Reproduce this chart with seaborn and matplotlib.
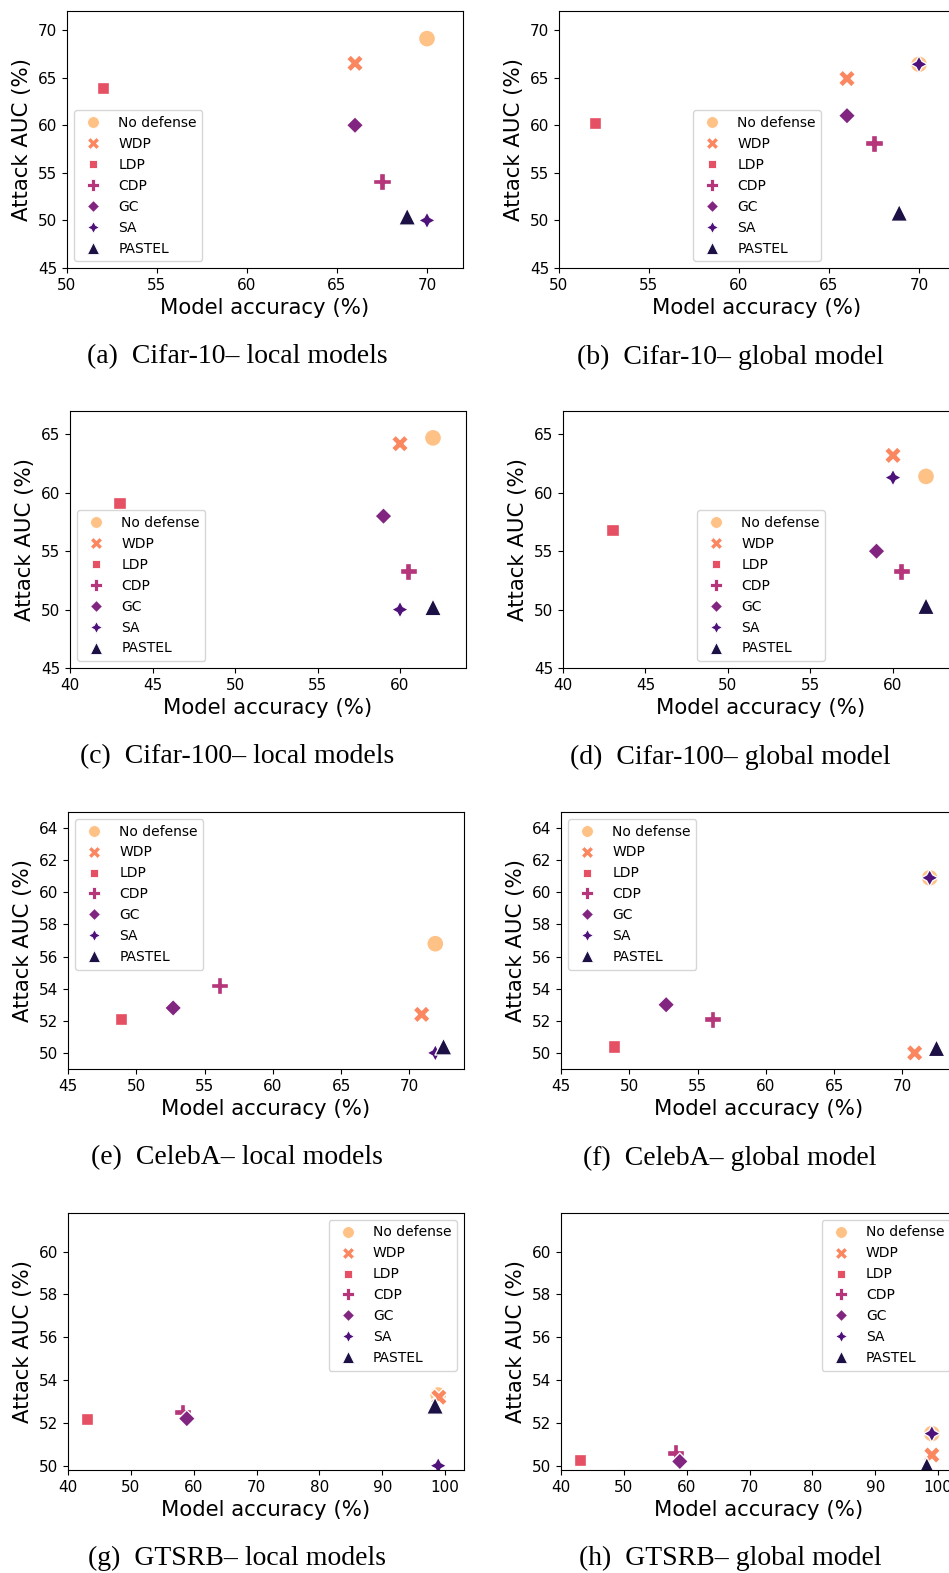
import numpy as np
import pandas as pd
import matplotlib
matplotlib.use("Agg")
import matplotlib.pyplot as plt
import seaborn as sns

methods = ["No defense", "WDP", "LDP", "CDP", "GC", "SA", "PASTEL"]

# (a) Cifar-10 - local models
c10_local_acc = [70.0, 66.0, 52.0, 67.5, 66.0, 70.0, 68.9]
c10_local_auc = [69.1, 66.5, 63.9, 54.1, 60.0, 50.0, 50.4]
# (b) Cifar-10 - global model
c10_global_acc = [70.0, 66.0, 52.0, 67.5, 66.0, 70.0, 68.9]
c10_global_auc = [66.4, 64.9, 60.2, 58.1, 61.0, 66.4, 50.8]
# (c) Cifar-100 - local models
c100_local_acc = [62.0, 60.0, 43.0, 60.5, 59.0, 60.0, 62.0]
c100_local_auc = [64.7, 64.2, 59.1, 53.3, 58.0, 50.0, 50.2]
# (d) Cifar-100 - global model
c100_global_acc = [62.0, 60.0, 43.0, 60.5, 59.0, 60.0, 62.0]
c100_global_auc = [61.4, 63.2, 56.8, 53.3, 55.0, 61.3, 50.3]
# (e) CelebA - local models
celeba_local_acc = [71.9, 70.9, 48.9, 56.1, 52.7, 71.9, 72.5]
celeba_local_auc = [56.8, 52.4, 52.1, 54.2, 52.8, 50.0, 50.4]
# (f) CelebA - global model
celeba_global_acc = [72.0, 70.9, 48.9, 56.1, 52.7, 72.0, 72.5]
celeba_global_auc = [60.9, 50.0, 50.4, 52.1, 53.0, 60.9, 50.3]
# (g) GTSRB - local models
gtsrb_local_acc = [98.9, 99.0, 43.1, 58.2, 58.9, 98.9, 98.4]
gtsrb_local_auc = [53.3, 53.2, 52.2, 52.5, 52.2, 50.0, 52.8]
# (h) GTSRB - global model
gtsrb_global_acc = [99.0, 99.0, 43.1, 58.2, 58.9, 99.0, 98.2]
gtsrb_global_auc = [51.5, 50.5, 50.25, 50.6, 50.2, 51.5, 50.0]

captions = [
    "(a)  Cifar-10– local models", "(b)  Cifar-10– global model",
    "(c)  Cifar-100– local models", "(d)  Cifar-100– global model",
    "(e)  CelebA– local models", "(f)  CelebA– global model",
    "(g)  GTSRB– local models", "(h)  GTSRB– global model",
]

W, H = 949, 1573
palette = sns.color_palette("magma_r", len(methods))

# panel layout in pixels: left, top, xlim, ylim, legend placement
panels = [
    (c10_local_acc, c10_local_auc, 67, 11, (50, 72), (45, 72), ("lower left", None)),
    (c10_global_acc, c10_global_auc, 559, 11, (50, 72), (45, 72), ("lower center", (0.5, 0.0))),
    (c100_local_acc, c100_local_auc, 70, 411, (40, 64), (45, 67), ("lower left", None)),
    (c100_global_acc, c100_global_auc, 563, 411, (40, 64), (45, 67), ("lower center", (0.5, 0.0))),
    (celeba_local_acc, celeba_local_auc, 68, 812, (45, 74), (49, 65), ("upper left", None)),
    (celeba_global_acc, celeba_global_auc, 561, 812, (45, 74), (49, 65), ("upper left", None)),
    (gtsrb_local_acc, gtsrb_local_auc, 68, 1213, (40, 103), (49.8, 61.8), ("upper right", None)),
    (gtsrb_global_acc, gtsrb_global_auc, 561, 1213, (40, 103), (49.8, 61.8), ("upper right", None)),
]
caption_pos = [(237, 357), (730, 357), (237, 757), (730, 757),
               (237, 1158), (730, 1158), (237, 1558), (730, 1558)]

plt.rcParams["font.family"] = "DejaVu Sans"
fig = plt.figure(figsize=(W / 100, H / 100), dpi=100)
ax_w, ax_h = 396, 257

for i, (acc, auc, left, top, xlim, ylim, (loc, anchor)) in enumerate(panels):
    ax = fig.add_axes([left / W, 1 - (top + ax_h) / H, ax_w / W, ax_h / H])
    df = pd.DataFrame({"acc": acc, "auc": auc, "method": methods})
    sns.scatterplot(data=df, x="acc", y="auc", hue="method", style="method",
                    hue_order=methods, style_order=methods, palette=palette,
                    s=150, ax=ax)
    ax.set_xlim(*xlim)
    ax.set_ylim(*ylim)
    ax.set_xlabel("Model accuracy (%)", fontsize=15.3)
    ax.set_ylabel("Attack AUC (%)", fontsize=15.3)
    ax.tick_params(labelsize=11)
    handles, labels = ax.get_legend_handles_labels()
    for h in handles:
        h.set_markersize(8.5)
        h.set_markeredgewidth(0.6)
    kw = {"loc": loc, "fontsize": 10}
    if anchor is not None:
        kw["bbox_to_anchor"] = anchor
    ax.legend(handles, labels, **kw)
    cx, cy = caption_pos[i]
    fig.text(cx / W, 1 - cy / H, captions[i], ha="center", va="center",
             fontsize=20, family="Liberation Serif")

fig.savefig("out.png", dpi=100)
